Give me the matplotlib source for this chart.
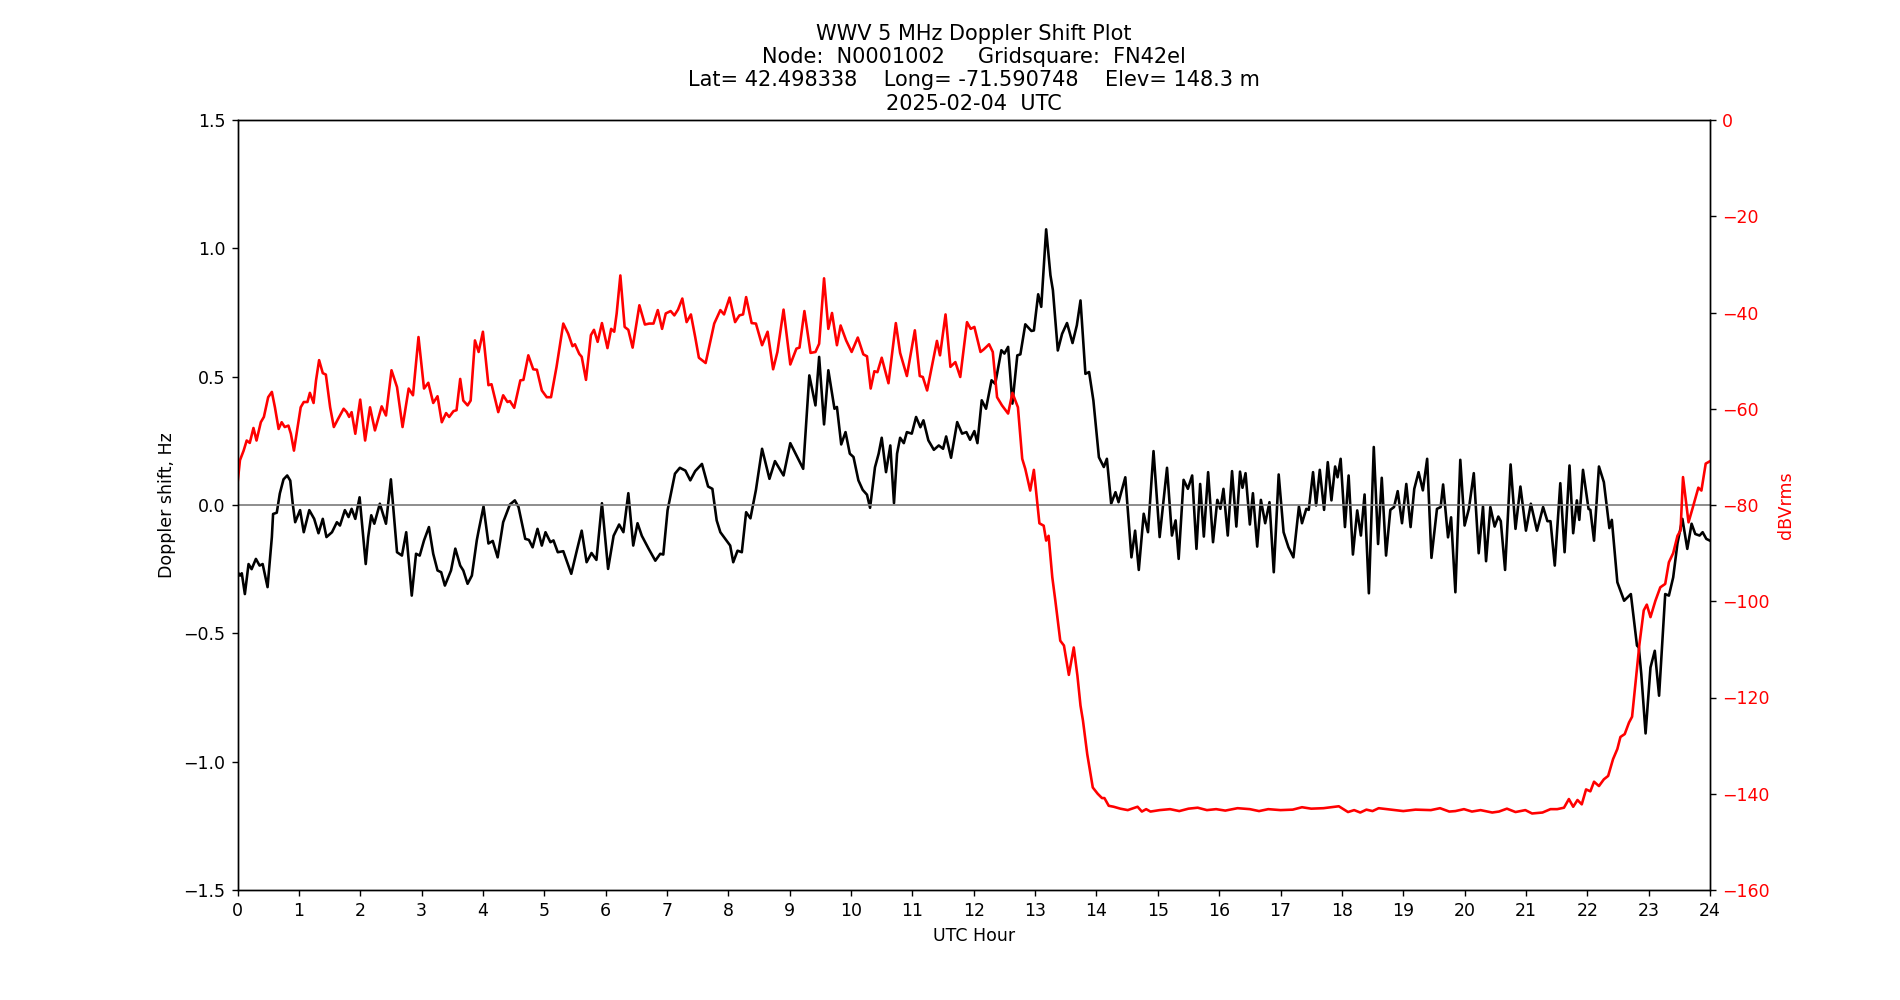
import matplotlib
matplotlib.use("Agg")
import matplotlib.pyplot as plt
import numpy as np

# Doppler shift (Hz) vs UTC hour
dop_hours = [
    0.00, 0.04, 0.07, 0.12, 0.18, 0.23, 0.30, 0.36, 0.41, 0.49, 0.56, 0.58, 0.64, 0.69, 0.75, 0.81, 0.86, 0.90, 0.94,
    1.02, 1.08, 1.17, 1.25, 1.32, 1.39, 1.45, 1.54, 1.62, 1.67, 1.75, 1.81, 1.86, 1.92, 1.99,
    2.04, 2.09, 2.13, 2.18, 2.23, 2.32, 2.42, 2.50, 2.60, 2.68, 2.75, 2.84, 2.91, 2.97,
    3.04, 3.12, 3.19, 3.26, 3.32, 3.38, 3.48, 3.55, 3.63, 3.68, 3.75, 3.82, 3.90,
    3.93, 4.01, 4.09, 4.16, 4.24, 4.33, 4.44, 4.52, 4.58, 4.69, 4.75, 4.81, 4.89, 4.96,
    5.02, 5.10, 5.15, 5.22, 5.31, 5.44, 5.53, 5.61, 5.69, 5.77, 5.85, 5.94,
    6.04, 6.13, 6.22, 6.29, 6.37, 6.45, 6.52, 6.59, 6.70, 6.81, 6.89, 6.94,
    7.01, 7.13, 7.21, 7.30, 7.38, 7.46, 7.57, 7.67, 7.74, 7.81,
    7.87, 7.95, 8.03, 8.08, 8.15, 8.22, 8.29, 8.36, 8.45, 8.55, 8.67, 8.76, 8.90,
    9.01, 9.11, 9.22, 9.32, 9.42, 9.48, 9.56, 9.63, 9.73, 9.77, 9.84, 9.91, 9.98,
    10.04, 10.12, 10.19, 10.26, 10.31, 10.39, 10.45, 10.50, 10.57, 10.64, 10.70, 10.75, 10.80, 10.86, 10.91, 10.99,
    11.06, 11.13, 11.18, 11.26, 11.35, 11.43, 11.50, 11.55, 11.63, 11.73, 11.81, 11.88, 11.94,
    12.01, 12.06, 12.13, 12.20, 12.29, 12.35, 12.45, 12.50, 12.56, 12.63, 12.71, 12.76, 12.84, 12.94, 12.98,
    13.05, 13.10, 13.18, 13.25, 13.29, 13.37, 13.44, 13.52, 13.61, 13.68, 13.74, 13.82, 13.88, 13.95,
    14.04, 14.12, 14.17, 14.24, 14.31, 14.36, 14.47, 14.57, 14.63, 14.69, 14.77, 14.84, 14.93,
    15.03, 15.15, 15.23, 15.29, 15.34, 15.42, 15.49, 15.56, 15.63, 15.69, 15.75, 15.82, 15.90, 15.97,
    16.02, 16.07, 16.14, 16.21, 16.28, 16.34, 16.38, 16.43, 16.50, 16.55, 16.62, 16.68, 16.75, 16.82, 16.89, 16.97,
    17.05, 17.13, 17.21, 17.30, 17.35, 17.42, 17.46, 17.53, 17.58, 17.64, 17.71, 17.77, 17.83, 17.89, 17.93, 17.98,
    18.05, 18.11, 18.18, 18.25, 18.31, 18.37, 18.44, 18.52, 18.59, 18.65, 18.72, 18.79, 18.85, 18.91, 18.98,
    19.05, 19.12, 19.18, 19.25, 19.32, 19.39, 19.46, 19.55, 19.61, 19.65, 19.73, 19.78, 19.85, 19.93,
    20.00, 20.07, 20.15, 20.23, 20.30, 20.35, 20.42, 20.49, 20.55, 20.59, 20.66, 20.75, 20.83, 20.91,
    21.00, 21.08, 21.18, 21.28, 21.35, 21.40, 21.47, 21.56, 21.63, 21.71, 21.77, 21.83, 21.87, 21.93,
    22.02, 22.05, 22.11, 22.19, 22.27, 22.36, 22.40, 22.49, 22.60, 22.71, 22.81, 22.84, 22.88, 22.95,
    23.03, 23.10, 23.17, 23.27, 23.33, 23.40, 23.47, 23.55, 23.63, 23.70, 23.76, 23.83, 23.88, 23.94, 24.00,
]
dop_hz = [
    -0.26, -0.275, -0.266, -0.347, -0.23, -0.25, -0.21, -0.236, -0.23, -0.32, -0.125, -0.035, -0.03, 0.045, 0.10, 0.115, 0.095, 0.005, -0.067,
    -0.02, -0.106, -0.02, -0.054, -0.11, -0.054, -0.125, -0.106, -0.067, -0.08, -0.02, -0.047, -0.015, -0.054, 0.03,
    -0.10, -0.23, -0.125, -0.04, -0.073, 0.005, -0.073, 0.10, -0.184, -0.197, -0.106, -0.353, -0.19, -0.197,
    -0.138, -0.086, -0.19, -0.255, -0.262, -0.314, -0.255, -0.17, -0.236, -0.255, -0.307, -0.275, -0.138,
    -0.10, -0.006, -0.15, -0.14, -0.204, -0.067, 0.002, 0.018, -0.008, -0.132, -0.136, -0.165, -0.093, -0.158,
    -0.106, -0.145, -0.138, -0.184, -0.18, -0.268, -0.178, -0.10, -0.223, -0.187, -0.214, 0.007,
    -0.249, -0.12, -0.076, -0.106, 0.046, -0.158, -0.071, -0.12, -0.17, -0.217, -0.19, -0.193,
    -0.02, 0.122, 0.145, 0.134, 0.096, 0.132, 0.16, 0.072, 0.063, -0.06,
    -0.106, -0.132, -0.158, -0.223, -0.178, -0.184, -0.028, -0.052, 0.059, 0.219, 0.102, 0.171, 0.115,
    0.241, 0.193, 0.141, 0.505, 0.388, 0.577, 0.314, 0.525, 0.375, 0.382, 0.236, 0.284, 0.20,
    0.187, 0.096, 0.059, 0.04, -0.011, 0.147, 0.20, 0.262, 0.128, 0.232, 0.007, 0.20, 0.262, 0.241, 0.284, 0.278,
    0.343, 0.303, 0.33, 0.252, 0.215, 0.232, 0.219, 0.267, 0.184, 0.323, 0.278, 0.284, 0.254,
    0.288, 0.241, 0.408, 0.375, 0.486, 0.472, 0.603, 0.59, 0.616, 0.395, 0.583, 0.587, 0.704, 0.678, 0.68,
    0.821, 0.772, 1.074, 0.895, 0.837, 0.602, 0.667, 0.709, 0.631, 0.70, 0.797, 0.511, 0.518, 0.407,
    0.186, 0.148, 0.18, 0.005, 0.05, 0.011, 0.108, -0.204, -0.10, -0.253, -0.034, -0.106, 0.21,
    -0.125, 0.145, -0.119, -0.06, -0.21, 0.098, 0.063, 0.115, -0.171, 0.082, -0.123, 0.128, -0.145, 0.02,
    -0.015, 0.063, -0.119, 0.132, -0.084, 0.13, 0.067, 0.124, -0.076, 0.046, -0.162, 0.02, -0.071, 0.011, -0.262, 0.119,
    -0.106, -0.165, -0.204, -0.006, -0.071, -0.015, -0.019, 0.128, -0.002, 0.137, -0.019, 0.167, 0.018, 0.15, 0.108, 0.18,
    -0.086, 0.115, -0.193, -0.021, -0.119, 0.041, -0.344, 0.226, -0.152, 0.106, -0.197, -0.019, -0.008, 0.054, -0.071,
    0.082, -0.086, 0.063, 0.128, 0.057, 0.18, -0.206, -0.015, -0.008, 0.08, -0.126, -0.048, -0.34, 0.176,
    -0.08, -0.015, 0.124, -0.188, -0.006, -0.219, -0.008, -0.084, -0.045, -0.063, -0.253, 0.158, -0.093, 0.072,
    -0.10, 0.005, -0.10, -0.008, -0.063, -0.063, -0.236, 0.085, -0.184, 0.154, -0.11, 0.018, -0.058, 0.137,
    -0.015, -0.019, -0.139, 0.15, 0.089, -0.09, -0.058, -0.301, -0.373, -0.347, -0.548, -0.555, -0.659, -0.89,
    -0.633, -0.568, -0.743, -0.347, -0.353, -0.282, -0.149, -0.054, -0.171, -0.073, -0.113, -0.119, -0.106, -0.132, -0.139,
]

# signal level (dBVrms) vs UTC hour
amp_hours = [
    0.00, 0.04, 0.10, 0.15, 0.20, 0.26, 0.31, 0.38, 0.43, 0.50, 0.56, 0.61, 0.67, 0.72, 0.77, 0.83, 0.87, 0.92, 0.98,
    1.03, 1.08, 1.14, 1.18, 1.24, 1.28, 1.33, 1.39, 1.44, 1.51, 1.57, 1.64, 1.73, 1.78, 1.82, 1.86, 1.92, 2.00,
    2.08, 2.16, 2.24, 2.35, 2.42, 2.51, 2.60, 2.69, 2.79, 2.86, 2.95, 3.04, 3.11, 3.19, 3.26, 3.33, 3.40, 3.45,
    3.52, 3.57, 3.63, 3.68, 3.75, 3.80, 3.87, 3.93, 4.00, 4.09, 4.14, 4.25, 4.33, 4.40, 4.44, 4.51, 4.61, 4.66,
    4.74, 4.82, 4.88, 4.96, 5.04, 5.11, 5.20, 5.31, 5.39, 5.46, 5.50, 5.57, 5.61, 5.68, 5.76, 5.81, 5.87, 5.94,
    6.03, 6.09, 6.14, 6.18, 6.24, 6.31, 6.37, 6.44, 6.55, 6.64, 6.71, 6.78, 6.85, 6.92, 6.98, 7.06, 7.12, 7.18,
    7.25, 7.32, 7.39, 7.46, 7.52, 7.63, 7.69, 7.77, 7.87, 7.93, 8.02, 8.11, 8.18, 8.24, 8.29, 8.38, 8.45, 8.55,
    8.64, 8.73, 8.80, 8.90, 9.01, 9.11, 9.16, 9.24, 9.34, 9.42, 9.48, 9.56, 9.63, 9.69, 9.77, 9.83, 9.92,
    10.01, 10.11, 10.20, 10.26, 10.32, 10.38, 10.43, 10.50, 10.61, 10.73, 10.80, 10.91, 11.04, 11.12, 11.17, 11.24,
    11.40, 11.45, 11.54, 11.62, 11.70, 11.78, 11.89, 11.95, 12.01, 12.11, 12.16, 12.25, 12.31, 12.38, 12.46, 12.56,
    12.63, 12.72, 12.79, 12.84, 12.92, 12.98, 13.07, 13.14, 13.18, 13.22, 13.28, 13.33, 13.41, 13.47, 13.55, 13.63,
    13.69, 13.74, 13.78, 13.85, 13.94, 14.02, 14.09, 14.13, 14.20, 14.28, 14.39, 14.51, 14.60, 14.67, 14.74, 14.81,
    14.88, 15.03, 15.20, 15.35, 15.50, 15.65, 15.80, 15.95, 16.10, 16.30, 16.50, 16.65, 16.80, 17.00, 17.20, 17.35,
    17.50, 17.70, 17.95, 18.00, 18.10, 18.20, 18.30, 18.40, 18.50, 18.60, 18.80, 19.00, 19.20, 19.45, 19.60, 19.75,
    19.85, 19.99, 20.12, 20.26, 20.45, 20.56, 20.69, 20.83, 20.99, 21.10, 21.27, 21.40, 21.51, 21.62, 21.70, 21.77,
    21.84, 21.91, 21.98, 22.05, 22.11, 22.19, 22.27, 22.34, 22.42, 22.49, 22.54, 22.61, 22.68, 22.73, 22.79, 22.85,
    22.92, 22.97, 23.03, 23.11, 23.19, 23.27, 23.33, 23.40, 23.47, 23.52, 23.56, 23.60, 23.65, 23.72, 23.81, 23.86,
    23.93, 24.00,
]
amp_db = [
    -75.6, -70.7, -68.7, -66.6, -67.1, -64.0, -66.6, -62.8, -61.7, -57.6, -56.5, -59.7, -64.2, -62.8, -63.8, -63.5, -65.2, -68.7, -63.8,
    -59.7, -58.6, -58.6, -56.7, -58.8, -54.1, -49.9, -52.6, -52.9, -59.7, -63.8, -62.1, -60.0, -60.7, -61.7, -60.7, -65.2, -58.1,
    -66.6, -59.7, -64.5, -59.5, -61.4, -52.0, -55.5, -63.8, -55.8, -57.2, -45.1, -55.8, -54.6, -58.8, -57.4, -62.8, -60.9, -61.7,
    -60.5, -60.3, -53.8, -58.3, -59.3, -58.3, -45.8, -48.2, -44.0, -55.1, -54.9, -60.7, -57.2, -58.6, -58.4, -59.8, -54.1, -54.0,
    -48.9, -51.8, -51.9, -56.2, -57.6, -57.6, -51.3, -42.3, -44.4, -47.0, -46.6, -48.6, -49.2, -54.0, -44.7, -43.6, -46.1, -42.2,
    -47.4, -43.4, -44.0, -40.2, -32.3, -43.0, -43.6, -47.3, -38.5, -42.5, -42.3, -42.3, -39.5, -43.4, -40.2, -39.7, -40.6, -39.4,
    -37.1, -42.0, -40.4, -45.1, -49.4, -50.5, -47.0, -42.3, -39.5, -40.4, -36.9, -42.0, -40.6, -40.4, -36.8, -42.2, -42.3, -46.8,
    -44.0, -51.8, -48.2, -39.4, -50.8, -47.5, -47.3, -39.7, -48.4, -48.2, -46.5, -32.9, -43.4, -40.1, -46.8, -42.7, -45.8,
    -48.2, -45.2, -48.7, -49.1, -55.8, -52.2, -52.4, -49.4, -54.7, -42.2, -48.4, -53.2, -43.7, -53.2, -53.4, -56.2,
    -45.9, -48.9, -40.4, -51.3, -50.3, -53.4, -42.0, -43.4, -43.0, -48.2, -47.7, -46.6, -48.2, -57.6, -59.3, -61.0,
    -56.7, -59.7, -70.4, -72.5, -77.0, -72.7, -83.8, -84.3, -87.4, -86.4, -95.0, -99.9, -108.2, -109.2, -115.3, -109.6,
    -115.5, -121.7, -124.8, -131.8, -138.7, -140.0, -140.9, -140.9, -142.5, -142.7, -143.1, -143.4, -143.0, -142.7, -143.7, -143.2,
    -143.7, -143.4, -143.2, -143.6, -143.1, -142.9, -143.4, -143.2, -143.5, -143.0, -143.2, -143.6, -143.2, -143.4, -143.3, -142.8,
    -143.1, -143.0, -142.6, -143.0, -143.8, -143.4, -143.9, -143.3, -143.6, -143.0, -143.3, -143.6, -143.3, -143.4, -143.0, -143.7,
    -143.6, -143.2, -143.7, -143.4, -143.9, -143.7, -143.1, -143.8, -143.4, -144.1, -143.9, -143.2, -143.2, -142.9, -141.1, -142.7,
    -141.3, -142.2, -139.1, -139.5, -137.5, -138.4, -137.0, -136.3, -132.8, -130.7, -128.2, -127.6, -125.2, -124.0, -116.5, -108.9,
    -101.9, -100.7, -103.3, -99.9, -97.1, -96.4, -91.9, -90.0, -86.4, -85.3, -74.2, -78.4, -83.6, -80.5, -76.4, -77.0,
    -71.4, -70.9,
]

title = ("WWV 5 MHz Doppler Shift Plot\n"
         "Node:  N0001002     Gridsquare:  FN42el\n"
         "Lat= 42.498338    Long= -71.590748    Elev= 148.3 m\n"
         "2025-02-04  UTC")

fig = plt.figure(figsize=(15.2, 8), dpi=125)
ax = fig.add_subplot(111)
ax.plot(dop_hours, dop_hz, color='black', linewidth=1.5)
ax.axhline(0, color='grey', linewidth=1)
ax.set_xlim(0, 24)
ax.set_ylim(-1.5, 1.5)
ax.set_xticks(np.arange(0, 25, 1))
ax.set_xlabel('UTC Hour')
ax.set_ylabel('Doppler shift, Hz')
ax.set_title(title)

ax2 = ax.twinx()
ax2.plot(amp_hours, amp_db, color='red', linewidth=1.5)
ax2.set_ylim(-160, 0)
ax2.set_ylabel('dBVrms', color='red')
ax2.tick_params(axis='y', labelcolor='red')

plt.savefig('out.png')
